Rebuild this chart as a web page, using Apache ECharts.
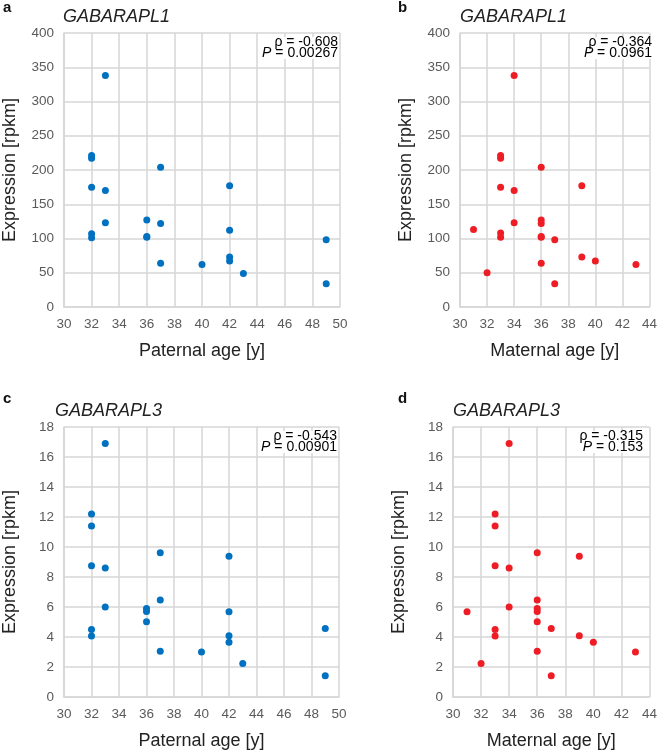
<!DOCTYPE html>
<html>
<head>
<meta charset="utf-8">
<script src="https://cdn.jsdelivr.net/npm/echarts@6/dist/echarts.min.js"></script>
<style>
html,body{margin:0;padding:0;background:#fff;}
#chart{width:660px;height:751px;}
</style>
</head>
<body>
<div id="chart"></div>
<script>
// ---- Data ----
const geneTop = 'GABARAPL1';
const geneBottom = 'GABARAPL3';
const panelLetters = ['a', 'b', 'c', 'd'];
const xNames = ['Paternal age [y]', 'Maternal age [y]', 'Paternal age [y]', 'Maternal age [y]'];
const yName = 'Expression [rpkm]';

// Panel a: GABARAPL1 vs paternal age
const paternalAgeA = [32,32,32,32,32,33,33,33,36,36,36,37,37,37,40,42,42,42,42,43,49,49];
const expressionA  = [221,217,175,107,101,338,170,123,127,103,102,204,122,64,62,177,112,73,67,49,98,34];
// Panel b: GABARAPL1 vs maternal age
const maternalAgeB = [31,32,33,33,33,33,33,34,34,34,36,36,36,36,36,36,37,37,39,39,40,43];
const expressionB  = [113,50,221,217,175,108,102,338,170,123,204,127,122,103,102,64,98,34,177,73,67,62];
// Panel c: GABARAPL3 vs paternal age
const paternalAgeC = [32,32,32,32,32,33,33,33,36,36,36,37,37,37,40,42,42,42,42,43,49,49];
const expressionC  = [12.2,11.4,8.75,4.5,4.07,16.9,8.6,6.0,5.9,5.7,5.02,9.62,6.47,3.05,3.0,9.38,5.68,4.09,3.65,2.23,4.57,1.42];
// Panel d: GABARAPL3 vs maternal age
const maternalAgeD = [31,32,33,33,33,33,33,34,34,34,36,36,36,36,36,36,37,37,39,39,40,43];
const expressionD  = [5.68,2.23,12.2,11.4,8.75,4.5,4.07,16.9,8.6,6.0,9.62,6.47,5.9,5.7,5.02,3.05,4.57,1.42,9.38,4.09,3.65,3.0];

// Statistics annotations
const rhoValues = ['-0.608', '-0.364', '-0.543', '-0.315'];
const pValues   = ['0.00267', '0.0961', '0.00901', '0.153'];

// Axis ranges
const xMaxPaternal = 50, xMaxMaternal = 44, xMin = 30, xStep = 2;
const yMaxL1 = 400, yStepL1 = 50, yMaxL3 = 18, yStepL3 = 2;

// ---- Styling / layout ----
const FONT = '"Liberation Sans", Arial, Helvetica, sans-serif';
const BLUE = '#0070C0';
const RED = '#EE1D25';
const GRID = '#d6d6d6';

const grids = [
  {left: 63, top: 33, width: 277, height: 274},
  {left: 460, top: 33, width: 193, height: 274},
  {left: 55, top: 427, width: 284, height: 271},
  {left: 453, top: 427, width: 198, height: 271}
];
const xMaxes = [xMaxPaternal, xMaxMaternal, xMaxPaternal, xMaxMaternal];
const yMaxes = [yMaxL1, yMaxL1, yMaxL3, yMaxL3];
const ySteps = [yStepL1, yStepL1, yStepL3, yStepL3];
const xs = [paternalAgeA, maternalAgeB, paternalAgeC, maternalAgeD];
const ys = [expressionA, expressionB, expressionC, expressionD];
const colors = [BLUE, RED, BLUE, RED];
const genes = [geneTop, geneTop, geneBottom, geneBottom];
const annRight = [338, 652, 337, 643];

const xAxes = [], yAxes = [], series = [], graphics = [];
for (let i = 0; i < 4; i++) {
  const g = grids[i];
  xAxes.push({
    type: 'value', gridIndex: i, min: xMin, max: xMaxes[i], interval: xStep,
    name: xNames[i], nameLocation: 'middle', nameGap: 35,
    nameTextStyle: {fontFamily: FONT, fontSize: 18, color: '#222'},
    axisLine: {show: true, lineStyle: {color: GRID, width: 1.5}},
    axisTick: {show: false},
    axisLabel: {fontFamily: FONT, fontSize: 13.5, color: '#5a5a5a', margin: 10},
    splitLine: {show: true, lineStyle: {color: GRID, width: 1.5}}
  });
  yAxes.push({
    type: 'value', gridIndex: i, min: 0, max: yMaxes[i], interval: ySteps[i],
    name: yName, nameLocation: 'middle', nameGap: 45,
    nameTextStyle: {fontFamily: FONT, fontSize: 18, color: '#222'},
    axisLine: {show: true, lineStyle: {color: GRID, width: 1.5}},
    axisTick: {show: false},
    axisLabel: {fontFamily: FONT, fontSize: 13.5, color: '#5a5a5a', margin: 10},
    splitLine: {show: true, lineStyle: {color: GRID, width: 1.5}}
  });
  series.push({
    type: 'scatter', xAxisIndex: i, yAxisIndex: i,
    data: xs[i].map((x, k) => [x, ys[i][k]]),
    symbolSize: 7,
    itemStyle: {color: colors[i], opacity: 1},
    z: 5
  });
  const leftCol = (i % 2 === 0);
  // panel letter
  graphics.push({
    type: 'text', x: leftCol ? 3 : 398, y: i < 2 ? 8 : 399,
    style: {text: panelLetters[i], font: 'bold 15px ' + FONT, fill: '#111', verticalAlign: 'middle'}
  });
  // gene title
  graphics.push({
    type: 'text', x: g.left, y: g.top - 16,
    style: {text: genes[i], font: 'italic 18px ' + FONT, fill: '#222', verticalAlign: 'middle'}
  });
  // annotation
  graphics.push({
    type: 'text', x: annRight[i], y: g.top + 4, z: 10,
    style: {
      text: '{n|ρ = ' + rhoValues[i] + '}\n{p|P}{n| = ' + pValues[i] + '}',
      align: 'right', verticalAlign: 'top',
      backgroundColor: '#fff',
      rich: {
        n: {fontFamily: FONT, fontSize: 14, color: '#222', lineHeight: 11},
        p: {fontFamily: FONT, fontSize: 14, fontStyle: 'italic', color: '#222', lineHeight: 11}
      }
    }
  });
}

const chart = echarts.init(document.getElementById('chart'), null, {renderer: 'canvas'});
chart.setOption({
  animation: false,
  backgroundColor: '#fff',
  grid: grids.map(g => Object.assign({containLabel: false}, g)),
  xAxis: xAxes,
  yAxis: yAxes,
  series: series,
  graphic: graphics
});
</script>
</body>
</html>
